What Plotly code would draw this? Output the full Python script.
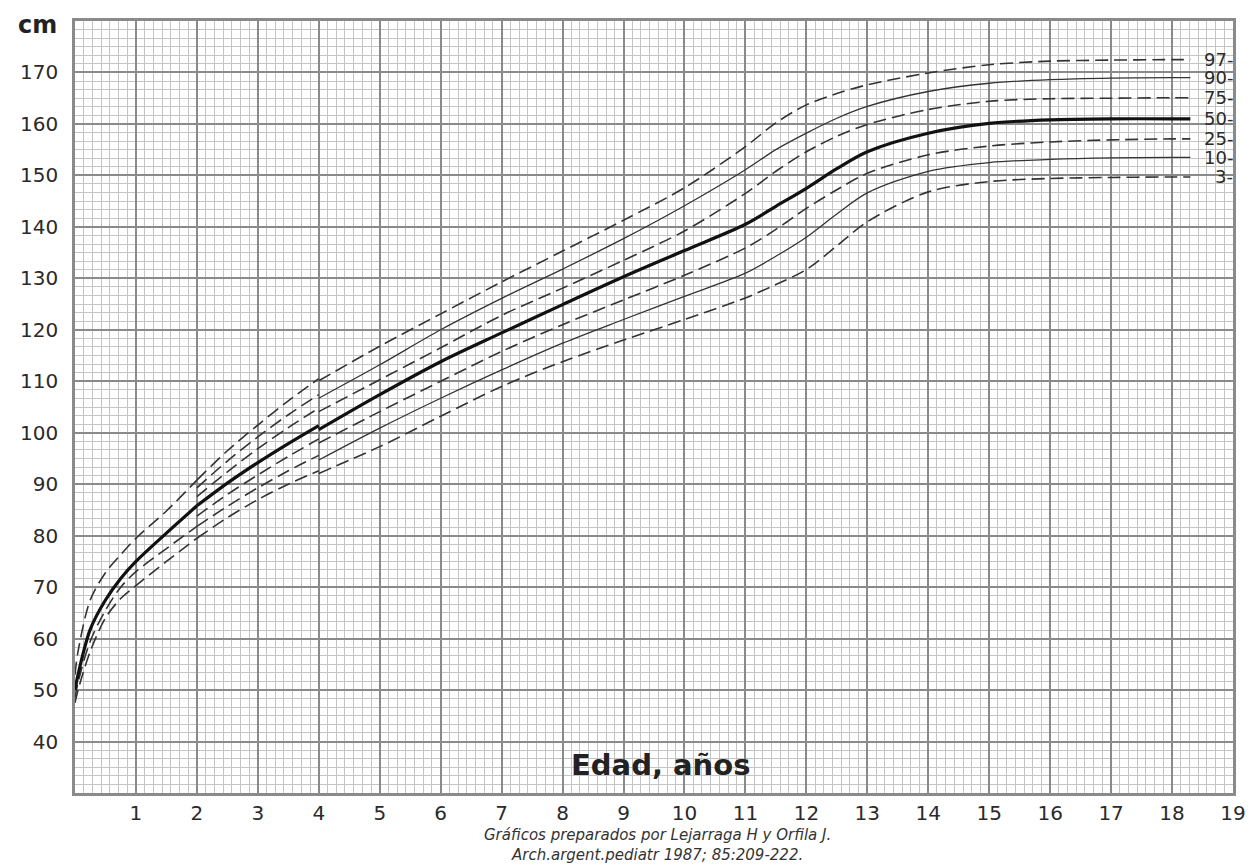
import plotly.graph_objects as go

# ---- data (girls' height percentiles, cm) ----
AGES_0_2 = [0, 0.05, 0.25, 0.5, 0.75, 1, 1.5, 2]
P97_0_2 = [53, 57.5, 67.5, 72.8, 76.3, 79.5, 84.8, 90.8]
P50_0_2 = [50, 53, 61.8, 67.5, 71.7, 75, 80.5, 85.8]
P10_0_2 = [48.5, 51.5, 59.5, 65.5, 70, 73, 77.5, 81.8]
P3_0_2 = [47.5, 50, 57.5, 64, 67.8, 70.3, 75, 79.5]

AGES_2_4 = [2, 2.5, 3, 3.5, 4]
P97_2_4 = [90.8, 96.5, 101.5, 106.2, 110.5]
P90_2_4 = [89.3, 94.5, 99.2, 103.5, 107.4]
P75_2_4 = [87.6, 92.4, 96.9, 101, 104.8]
P50_2_4 = [85.8, 90.2, 94.2, 97.9, 101.4]
P25_2_4 = [83.8, 88, 91.8, 95.4, 98.8]
P10_2_4 = [81.8, 85.7, 89.3, 92.6, 95.6]
P3_2_4 = [79.5, 83.5, 87, 90, 92.6]

AGES_4_18 = [4, 5, 6, 7, 8, 9, 10, 11, 11.5, 12, 12.5, 13, 14, 15, 16, 17, 18, 18.3]
P97 = [110.1, 116.8, 123.1, 129.3, 135.3, 141.3, 147.6, 155.6, 160.2, 163.7, 165.9, 167.6, 169.9, 171.5, 172.2, 172.4, 172.5, 172.5]
P90 = [106.7, 113.2, 120, 126.1, 131.8, 137.7, 144.1, 151.1, 155, 158.2, 161.1, 163.4, 166.3, 167.9, 168.6, 168.9, 169, 169]
P75 = [104.1, 110.3, 116.5, 122.8, 128.1, 133.5, 139.2, 146.5, 150.8, 154.6, 157.6, 159.9, 162.8, 164.4, 164.9, 165.0, 165.1, 165.1]
P50 = [100.6, 107.4, 113.8, 119.4, 124.9, 130.3, 135.4, 140.5, 144, 147.5, 151.3, 154.6, 158.2, 160.1, 160.8, 161, 161, 161]
P25 = [98, 104.1, 110, 115.8, 121, 125.8, 130.6, 135.9, 139.5, 143.6, 147.2, 150.4, 154, 155.7, 156.5, 156.9, 157.1, 157.1]
P10 = [94.7, 100.9, 106.7, 112.2, 117.4, 122, 126.5, 131, 134.3, 138, 142.5, 146.6, 150.8, 152.5, 153.1, 153.4, 153.5, 153.5]
P3 = [92.1, 97.3, 103.2, 109, 113.8, 118, 122, 126.2, 128.8, 131.7, 136.3, 141, 146.8, 148.8, 149.4, 149.6, 149.7, 149.7]

PERCENTILE_LABELS = ["97", "90", "75", "50", "25", "10", "3"]
X_TICKS = list(range(1, 20))
Y_TICKS = list(range(40, 180, 10))
CAPTION_LINES = ["Gráficos preparados por Lejarraga H y Orfila J.",
                 "Arch.argent.pediatr 1987; 85:209-222."]

FONT = "DejaVu Sans, Verdana, sans-serif"
INK = "#2a2a2a"

DASHED = dict(color="#333333", width=1.6, dash="13px,6px")
SOLID = dict(color="#333333", width=1.3)
THICK = dict(color="#111111", width=3.2)

fig = go.Figure()


def add(x, y, style):
    fig.add_trace(go.Scatter(x=x, y=y, mode="lines", line=dict(shape="spline", smoothing=0.9, **style),
                             hoverinfo="skip", showlegend=False))


# 0-2 years
add(AGES_0_2, P97_0_2, DASHED)
add(AGES_0_2, P10_0_2, DASHED)
add(AGES_0_2, P3_0_2, DASHED)
add(AGES_0_2, P50_0_2, THICK)
# 2-4 years
for ys in [P97_2_4, P90_2_4, P75_2_4, P25_2_4, P10_2_4, P3_2_4]:
    add(AGES_2_4, ys, DASHED)
add(AGES_2_4, P50_2_4, THICK)
# 4-18 years
series = [P97, P90, P75, P50, P25, P10, P3]
styles = [DASHED, SOLID, DASHED, THICK, DASHED, SOLID, DASHED]
for ys, st in zip(series, styles):
    add(AGES_4_18, ys, st)

# right-side percentile labels
for lab, ys in zip(PERCENTILE_LABELS, series):
    fig.add_annotation(x=19, y=ys[-1], xref="x", yref="y", text=lab + "-", showarrow=False,
                       xanchor="right", yanchor="middle", xshift=2,
                       font=dict(family=FONT, size=18, color=INK))

# plot area: ~1162 x 772 px
fig.add_annotation(x=-0.032, y=1.016, xref="paper", yref="paper", text="<b>cm</b>", showarrow=False,
                   xanchor="center", yanchor="top", font=dict(family=FONT, size=24, color="#222"))
fig.add_annotation(x=0.506, y=0.036, xref="paper", yref="paper", text="<b>Edad, años</b>", showarrow=False,
                   xanchor="center", yanchor="middle", font=dict(family=FONT, size=29, color="#222"))
fig.add_annotation(x=0.503, y=-0.068, xref="paper", yref="paper",
                   text="<br>".join("<i>" + ln + "</i>" for ln in CAPTION_LINES), showarrow=False,
                   xanchor="center", yanchor="middle", align="center",
                   font=dict(family=FONT, size=15, color="#333"))

fig.update_xaxes(range=[0, 19], tickmode="array", tickvals=X_TICKS, ticktext=[str(v) for v in X_TICKS],
                 showgrid=True, gridcolor="#8a8a8a", gridwidth=1.5,
                 minor=dict(tickmode="linear", tick0=0, dtick=1 / 7, showgrid=True, gridcolor="#c4c4c4", gridwidth=1),
                 showline=True, linecolor="#8a8a8a", linewidth=2.5, mirror=True, zeroline=False,
                 ticks="", tickfont=dict(family=FONT, size=20, color=INK))
fig.update_yaxes(range=[30, 180], tickmode="array", tickvals=Y_TICKS, ticktext=[str(v) for v in Y_TICKS],
                 showgrid=True, gridcolor="#8a8a8a", gridwidth=1.5,
                 minor=dict(tickmode="linear", tick0=0, dtick=10 / 6, showgrid=True, gridcolor="#c4c4c4", gridwidth=1),
                 showline=True, linecolor="#8a8a8a", linewidth=2.5, mirror=True, zeroline=False,
                 ticks="", ticklabelstandoff=10, tickfont=dict(family=FONT, size=20, color=INK))

# margins compensate for the page's own offset
fig.update_layout(width=1259, height=867, margin=dict(l=67, r=34, t=13, b=82, autoexpand=False),
                  paper_bgcolor="white", plot_bgcolor="white", showlegend=False)

fig.write_html("out.html")
